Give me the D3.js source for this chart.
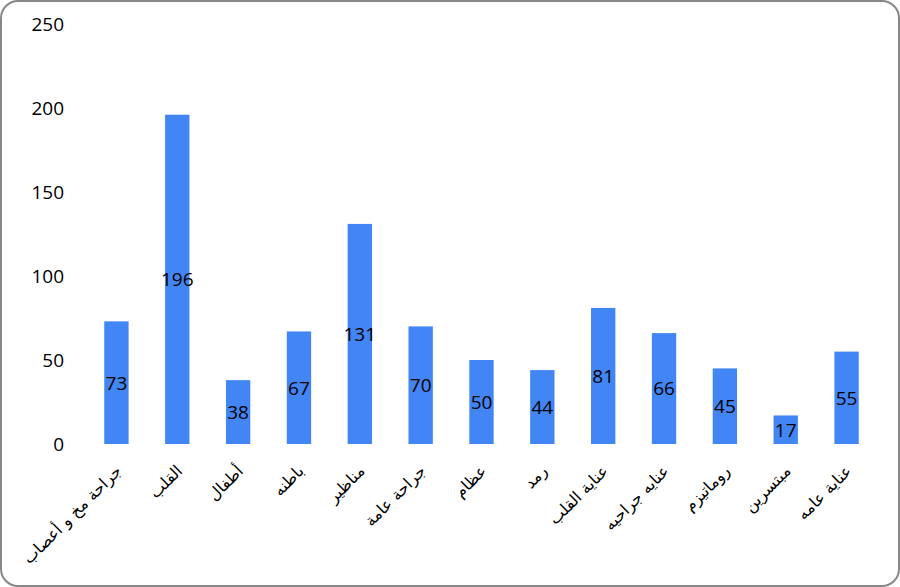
<!DOCTYPE html>
<html>
<head>
<meta charset="utf-8">
<script src="https://cdn.jsdelivr.net/npm/d3@7"></script>
<style>
  html, body { margin: 0; padding: 0; background: #fff; }
  svg { display: block; }
</style>
</head>
<body>
<div id="chart"></div>
<script>
// departments and patient counts
const departments = ["جراحة مخ و أعصاب", "القلب", "أطفال", "باطنه", "مناظير", "جراحة عامة",
  "عظام", "رمد", "عناية القلب", "عنايه جراحيه", "روماتيزم", "مبتسرين", "عناية عامه"];
const counts = [73, 196, 38, 67, 131, 70, 50, 44, 81, 66, 45, 17, 55];
const yTicks = [0, 50, 100, 150, 200, 250];

const width = 900, height = 587;
const margin = {top: 24, right: 23, bottom: 143, left: 86};

const svg = d3.select("#chart").append("svg")
  .attr("width", width)
  .attr("height", height);

svg.append("rect")
  .attr("x", 1).attr("y", 1)
  .attr("width", width - 2).attr("height", height - 2)
  .attr("rx", 17).attr("ry", 17)
  .attr("fill", "#fff")
  .attr("stroke", "#888")
  .attr("stroke-width", 2);

let x = d3.scaleBand()
  .domain(departments)
  .range([margin.left, width - margin.right])
  .paddingInner(0.6)
  .paddingOuter(0.3);

let y = d3.scaleLinear()
  .domain([0, 250])
  .range([height - margin.bottom, margin.top]);

// y axis: labels only
let yAxis = svg.append("g")
  .attr("transform", `translate(${margin.left - 22},0)`)
  .call(d3.axisLeft(y).tickValues(yTicks).tickSize(0).tickPadding(0));
yAxis.select(".domain").remove();
yAxis.selectAll("text")
  .attr("font-family", "'Segoe UI', 'Open Sans', 'Noto Sans', sans-serif")
  .attr("font-size", 19)
  .attr("fill", "#000");

// bars
svg.append("g").selectAll("rect")
  .data(counts)
  .join("rect")
    .attr("x", (d, i) => x(departments[i]))
    .attr("y", d => y(d))
    .attr("width", x.bandwidth())
    .attr("height", d => y(0) - y(d))
    .attr("fill", "#4285f4");

// value labels centred in the bars
svg.append("g").selectAll("text")
  .data(counts)
  .join("text")
    .attr("x", (d, i) => x(departments[i]) + x.bandwidth() / 2)
    .attr("y", d => (y(d) + y(0)) / 2)
    .attr("dy", "0.36em")
    .attr("text-anchor", "middle")
    .attr("font-family", "'Segoe UI', 'Open Sans', 'Noto Sans', sans-serif")
    .attr("font-size", 19)
    .attr("fill", "#000")
    .text(d => d);

// x axis labels, rotated
let xAxis = svg.append("g")
  .attr("transform", `translate(0,${y(0)})`)
  .call(d3.axisBottom(x).tickSize(0).tickPadding(0));
xAxis.select(".domain").remove();
xAxis.selectAll("text")
  .attr("font-family", "'DejaVu Sans', sans-serif")
  .attr("font-size", 16)
  .attr("fill", "#000")
  .attr("text-anchor", "end")
  .attr("dy", 0)
  .attr("y", 0)
  .attr("transform", "translate(6,28) rotate(-45)");
</script>
</body>
</html>
